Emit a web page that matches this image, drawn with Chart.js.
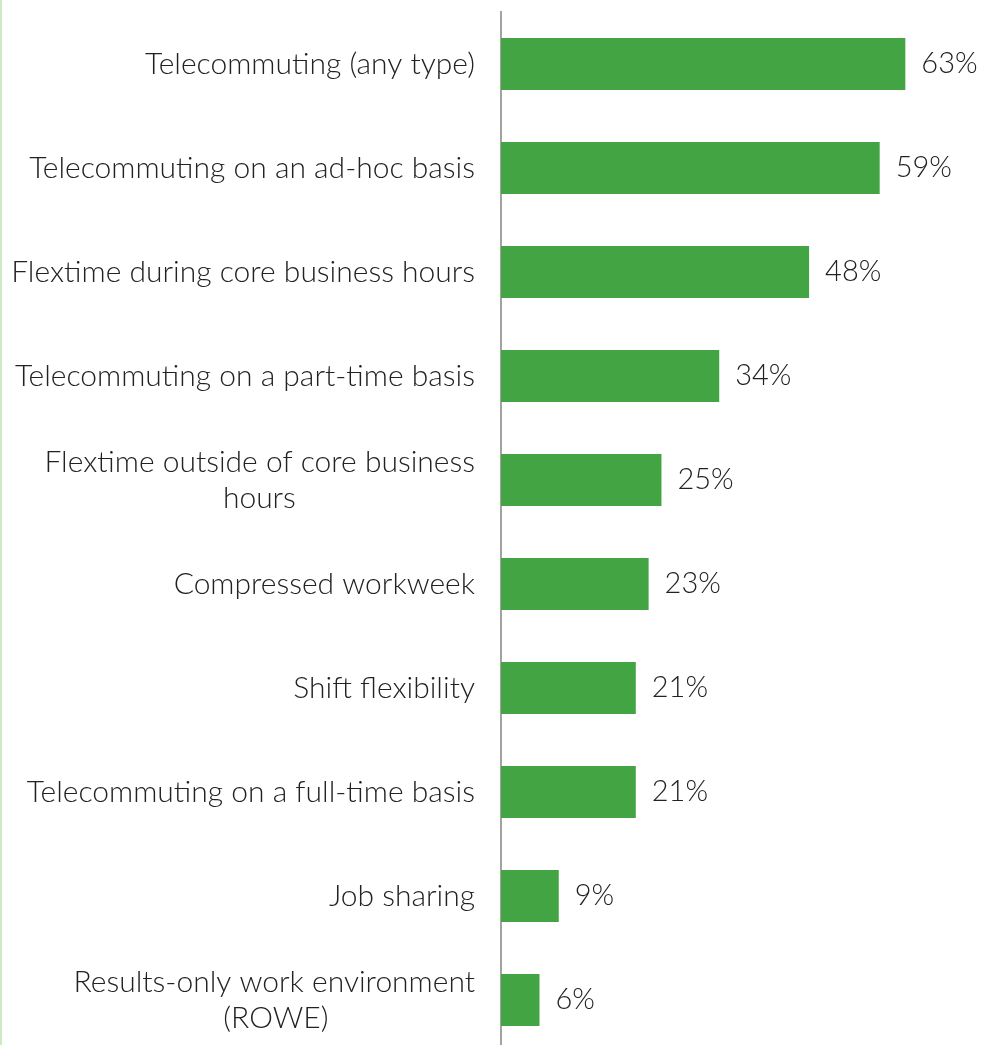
<!DOCTYPE html>
<html>
<head>
<meta charset="utf-8">
<script src="https://cdn.jsdelivr.net/npm/chart.js@4/dist/chart.umd.min.js"></script>
<style>
  html, body { margin: 0; padding: 0; background: #fff; overflow: hidden; }
  .wrap { position: relative; width: 992px; height: 1052px; border-left: 2px solid #cde9c6; box-sizing: border-box; }
</style>
</head>
<body>
<div class="wrap"><canvas id="chart"></canvas></div>
<script>
// ===== data =====
const LABELS = [
  'Telecommuting (any type)',
  'Telecommuting on an ad-hoc basis',
  'Flextime during core business hours',
  'Telecommuting on a part-time basis',
  ['Flextime outside of core business', 'hours'],
  'Compressed workweek',
  'Shift flexibility',
  'Telecommuting on a full-time basis',
  'Job sharing',
  ['Results-only work environment', '(ROWE)']
];
const VALUES = [63, 59, 48, 34, 25, 23, 21, 21, 9, 6];

const FONT = 'Lato, "Open Sans", sans-serif';
const TICK_FONT = '300 30px ' + FONT;

// 複数行ラベルの短い行を中央寄せにする（末尾スペースで調整）
const measureCtx = document.createElement('canvas').getContext('2d');
measureCtx.font = TICK_FONT;
function centerLines(label) {
  if (!Array.isArray(label)) return label;
  const widths = label.map(l => measureCtx.measureText(l).width);
  const maxW = Math.max(...widths);
  const sp = measureCtx.measureText(' ').width;
  return label.map((l, i) => l + ' '.repeat(Math.round((maxW - widths[i]) / 2 / sp)));
}

// ===== value labels =====
const valueLabels = {
  id: 'valueLabels',
  afterDatasetsDraw(chart) {
    const ctx = chart.ctx;
    const meta = chart.getDatasetMeta(0);
    ctx.save();
    ctx.font = '300 29px ' + FONT;
    ctx.fillStyle = '#222';
    ctx.textBaseline = 'middle';
    ctx.textAlign = 'left';
    meta.data.forEach((bar, i) => {
      ctx.fillText(VALUES[i] + '%', bar.x + 16, bar.y);
    });
    ctx.restore();
  }
};

new Chart(document.getElementById('chart'), {
  type: 'bar',
  data: {
    labels: LABELS,
    datasets: [{
      data: VALUES,
      backgroundColor: '#43a443',
      borderWidth: 0,
      barPercentage: 0.5,
      categoryPercentage: 1.0
    }]
  },
  options: {
    indexAxis: 'y',
    responsive: true,
    maintainAspectRatio: false,
    animation: false,
    layout: { padding: { top: 12, left: 0, right: 0, bottom: 0 } },
    plugins: { legend: { display: false }, tooltip: { enabled: false } },
    scales: {
      x: { display: false, min: 0, max: 76.5 },
      y: {
        grid: { display: false, drawTicks: false },
        border: { display: true, color: '#a3a3a3', width: 2 },
        ticks: {
          color: '#222',
          padding: 26,
          font: { family: FONT, size: 30, weight: 300, lineHeight: 1.2 },
          callback(value, index) { return centerLines(LABELS[index]); }
        },
        afterFit(scale) {
          scale.width = 499;
          scale.paddingTop = 0;
          scale.paddingBottom = 0;
        }
      }
    }
  },
  plugins: [valueLabels]
});
</script>
</body>
</html>
